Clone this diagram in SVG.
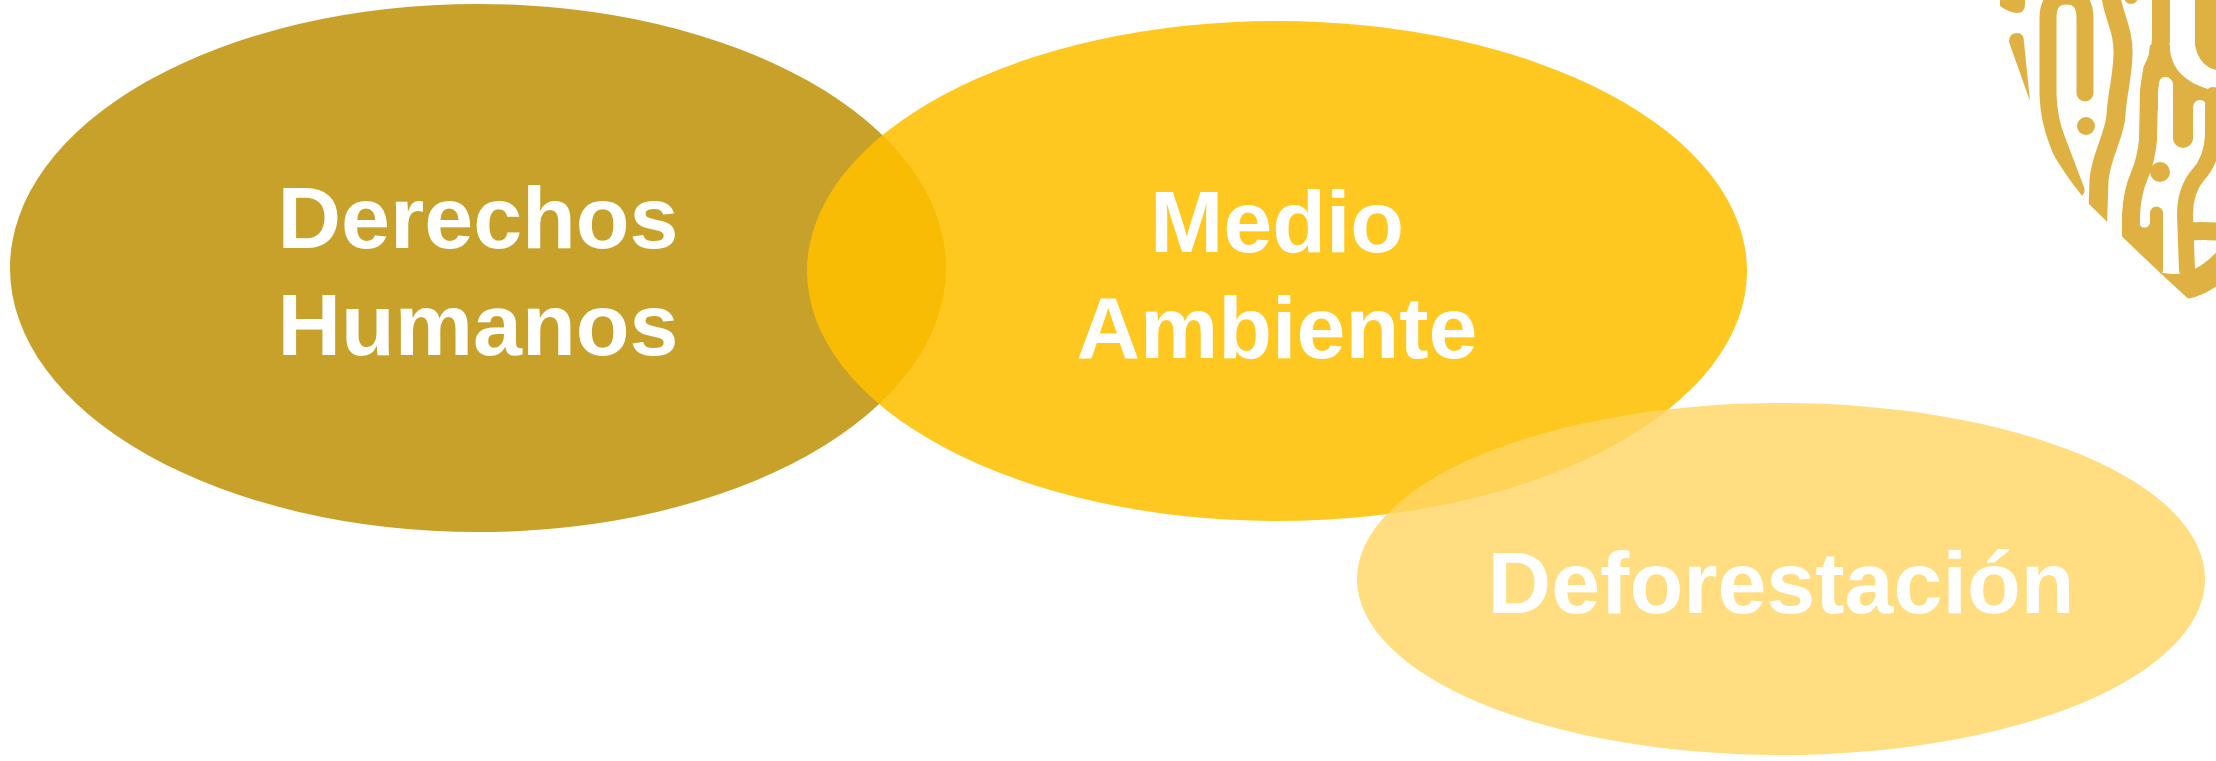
<svg xmlns="http://www.w3.org/2000/svg" width="2216" height="761" viewBox="0 0 2216 761">
  <style>
    .lbl { font-family: "Liberation Sans", Arial, sans-serif; font-weight: 700; font-size: 88px; fill: #FFFFFF; text-anchor: middle; }
    .fp { fill: #DFB143; }
    .fps { fill: none; stroke: #DFB143; stroke-linecap: round; stroke-linejoin: round; }
  </style>
  <defs>
    <clipPath id="fpclip">
      <path d="M1996,-5 L2000,2 Q2016,60 2029,102 Q2050,160 2090,205 Q2140,255 2195,305 L2222,284 L2222,-5 Z"/>
    </clipPath>
  </defs>
  <rect width="2216" height="761" fill="#FFFFFF"/>

  <g id="decoration">
    <path class="fp" d="M2000,-1 L2000,6 Q2008,12 2017,13 Q2025,13 2025,4 L2025,-1 Z"/>
    <path class="fp" d="M2009,42 Q2009,33 2017,33 Q2024,33 2024,42 L2030,101 Z"/>
    <g clip-path="url(#fpclip)">
      <path class="fps" stroke-width="17" d="M2085,93 L2085,18 Q2085,-4 2066.5,-4 Q2048,-4 2048,18 L2048,95 Q2049,120 2057,140 L2076,190"/>
      <circle class="fp" cx="2086" cy="126" r="9"/>
      <path class="fps" stroke-width="19" d="M2110,-10 C2112,15 2124,28 2123,55 C2122,80 2117,95 2116,115 C2115,135 2101,155 2099,180 L2097,240"/>
      <circle class="fp" cx="2131" cy="-3" r="7"/>
      <path class="fps" stroke-width="18" d="M2161,-10 L2161,40 Q2160,55 2152,70 L2149,90 L2148,140 Q2146,160 2140,174 Q2132,192 2131,215 L2131,262"/>
      <circle class="fp" cx="2160" cy="172" r="10"/>
      <path class="fps" stroke-width="13" d="M2156.5,213 L2156.5,270"/>
      <path class="fp" d="M2139,222 A5.5,5.5 0 0 0 2150,222 L2150,275 L2139,275 Z"/>
      <path class="fps" stroke-width="26" d="M2120,262 Q2140,286 2172,287 Q2200,288 2225,262"/>
      <path class="fp" d="M2170,45 L2170,50 Q2172,72 2195,84 L2222,95 L2222,150 L2207,150 L2207,107 A7,7 0 0 0 2193,107 L2193,140 L2173,140 L2173,84.5 A7.5,7.5 0 0 0 2158,84.5 L2158,110 L2142,110 L2150,45 Z"/>
      <path class="fps" stroke-width="20" d="M2183,130 L2183,138"/>
      <path class="fps" stroke-width="16" d="M2213,95 L2213,135 Q2212,160 2198,175 Q2185,190 2185,215 L2187,270"/>
      <path class="fps" stroke-width="18" d="M2187,232 Q2200,230 2225,232"/>
      <path class="fp" d="M2195,-5 L2195,45 Q2198,62 2210,68 L2222,72 L2222,-5 Z"/>
    </g>
  </g>

  <g id="node-derechos-humanos">
    <ellipse cx="478" cy="268" rx="468" ry="264" fill="#C8A12A"/>
  </g>
  <g id="node-medio-ambiente">
    <ellipse cx="1277" cy="271" rx="470" ry="250" fill="#FFC000" fill-opacity="0.87"/>
  </g>
  <g id="node-deforestacion">
    <ellipse cx="1781" cy="579" rx="424" ry="176" fill="#FFD664" fill-opacity="0.82"/>
  </g>

  <g id="labels">
    <text class="lbl" x="478" y="248">Derechos</text>
    <text class="lbl" x="478" y="355">Humanos</text>
    <text class="lbl" x="1277" y="252">Medio</text>
    <text class="lbl" x="1277" y="358">Ambiente</text>
    <text class="lbl" x="1781" y="613">Deforestación</text>
  </g>

  <g id="connectors"/>
</svg>
